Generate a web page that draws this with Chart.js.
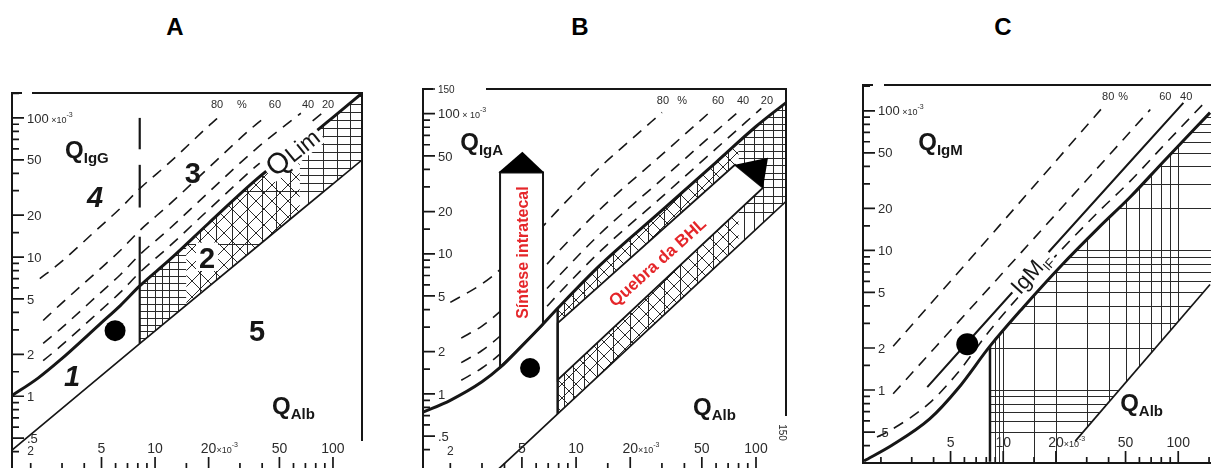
<!DOCTYPE html>
<html>
<head>
<meta charset="utf-8">
<script src="https://cdn.jsdelivr.net/npm/chart.js@4.4.1/dist/chart.umd.min.js"></script>
<style>
html,body{margin:0;padding:0;background:#fff;}
body{width:1211px;height:468px;overflow:hidden;position:relative;}
.ttl{position:absolute;top:13px;width:40px;margin-left:-20px;text-align:center;font:bold 24px "Liberation Sans",Arial,sans-serif;line-height:28px;color:#000;}
canvas{position:absolute;}
</style>
</head>
<body>
<div class="ttl" style="left:175px">A</div>
<div class="ttl" style="left:580px">B</div>
<div class="ttl" style="left:1003px">C</div>
<canvas id="cA"></canvas>
<canvas id="cB"></canvas>
<canvas id="cC"></canvas>
<script>
// ================= DATA (quotients, x10^-3) =================
// ---- Panel A : IgG ----
const A_QLIM_X = [1.55, 2.2, 2.9, 4.9, 6.4, 8.2, 12, 20, 37, 60, 100, 146];
const A_QLIM_Y = [1.0, 1.35, 1.8, 3.3, 4.5, 6.2, 9.5, 17.5, 36, 59, 101, 151];
const A_QLOW_X = [1.57, 8.2, 146];
const A_QLOW_Y = [0.41, 2.39, 50];
const A_D80_X = [2.25, 2.9, 4.9, 6.4, 8.2, 12, 20, 23.5];
const A_D80_Y = [7.0, 9.0, 16.5, 22.5, 31, 47.5, 87.5, 105];
const A_D60_X = [2.35, 2.9, 4.9, 6.4, 8.2, 12, 20, 37, 42];
const A_D60_Y = [3.5, 4.5, 8.2, 11.2, 15.5, 23.8, 43.8, 90, 102];
const A_D40_X = [2.35, 2.9, 4.9, 6.4, 8.2, 12, 20, 37, 60, 66];
const A_D40_Y = [2.4, 3.0, 5.5, 7.5, 10.4, 15.9, 29.2, 60, 98.5, 108];
const A_D20_X = [2.35, 2.9, 4.9, 6.4, 8.2, 12, 20, 37, 60, 90];
const A_D20_Y = [1.8, 2.25, 4.1, 5.6, 7.75, 11.9, 21.9, 45, 74, 112];
const A_CUT_X = [8.2, 8.2];
const A_CUT1_Y = [100, 59.5];
const A_CUT2_Y = [46, 22.7];
const A_CUT3_Y = [14, 2.39];
const A_PATIENT = [5.96, 2.96];

// ---- Panel B : IgA ----
const B_QLIM_X = [1.41, 2, 3, 3.8, 5, 6.4, 8, 13.6, 30, 60, 100, 147];
const B_QLIM_Y = [0.74, 0.9, 1.22, 1.55, 2.2, 3.05, 4.15, 8.3, 20.4, 45, 81, 120];
const B_QLOW_X = [3.7, 7.9, 147];
const B_QLOW_Y = [0.29, 0.72, 23.7];
const B_D80_X = [2.0, 3, 3.8, 5, 6.4, 8, 13.6, 20, 30];
const B_D80_Y = [4.5, 6.1, 7.75, 11.0, 15.25, 20.75, 41.5, 64.5, 102];
const B_D60_X = [2.3, 3, 3.8, 5, 6.4, 8, 13.6, 30, 57];
const B_D60_Y = [2.5, 3.05, 3.9, 5.5, 7.6, 10.4, 20.8, 51, 106];
const B_D40_X = [2.3, 3, 3.8, 5, 6.4, 8, 13.6, 30, 60, 80];
const B_D40_Y = [1.67, 2.04, 2.6, 3.67, 5.1, 6.93, 13.9, 34, 75, 103.5];
const B_D20_X = [2.3, 3, 3.8, 5, 6.4, 8, 13.6, 30, 60, 107];
const B_D20_Y = [1.25, 1.53, 1.94, 2.75, 3.8, 5.19, 10.4, 25.5, 56.3, 109];
const B_CUT_X = [7.9, 7.9];
const B_CUT_Y = [4.1, 0.72];
const B_PATIENT = [5.55, 1.53];

// ---- Panel C : IgM ----
const C_QLIM_X = [1.6, 2.3, 3.8, 5.5, 8.4, 13, 21.5, 35, 53, 82, 152];
const C_QLIM_Y = [0.31, 0.40, 0.62, 1.02, 2.06, 3.9, 7.8, 14.5, 24, 43, 97];
const C_QLOW_X = [25.8, 152];
const C_QLOW_Y = [0.43, 5.7];
const C_D80_X = [2.35, 9.4, 37.3];
const C_D80_Y = [2.06, 14.8, 107];
const C_D60_X = [2.35, 12.8, 69.2];
const C_D60_Y = [0.94, 9.8, 102];
const C_IF_X = [3.68, 14.3, 107];
const C_IF_Y = [1.05, 6.97, 114];
const C_D20_X = [1.9, 2.3, 3.8, 5.5, 8.4, 13, 21.5, 35, 53, 82, 140];
const C_D20_Y = [0.46, 0.52, 0.81, 1.33, 2.68, 5.07, 10.1, 18.9, 31.2, 55.9, 113];
const C_CUT_X = [8.4, 8.4];
const C_CUT_Y = [2.06, 0.306];
const C_PATIENT = [6.23, 2.13];

// ---- Axis ticks / labels ----
const Y_TICK_VALUES = [0.4, 0.5, 0.6, 0.7, 0.8, 0.9, 1, 1.5, 2, 3, 4, 5, 6, 7, 8, 9, 10, 15, 20, 30, 40, 50, 60, 70, 80, 90, 100, 150];
const Y_LABEL_VALUES = [0.5, 1, 2, 5, 10, 20, 50, 100];
const Y_LABEL_TEXT = ['.5', '1', '2', '5', '10', '20', '50', '100'];
const X_TICK_VALUES = [2, 3, 4, 5, 6, 7, 8, 9, 10, 15, 20, 30, 40, 50, 60, 70, 80, 90, 100, 150];
const X_MAJOR_VALUES = [5, 10, 20, 50, 100];
const X_LABEL_VALUES = [2, 5, 10, 20, 50, 100];
const X_LABEL_TEXT = ['2', '5', '10', '20', '50', '100'];
const PCT_TEXT = ['80', '%', '60', '40', '20'];
const A_PCT_X = [22.3, 30.8, 47.2, 72.4, 93.8];
const B_PCT_X = [30.4, 38.8, 61.5, 84.7, 115];
const C_PCT_X = [39.8, 48.5, 84.3, 111];

// ================= DRAWING =================
const INK = '#161616';
const FONT = '"Liberation Sans", Arial, sans-serif';
const PAD = 6;

function pts(xs, ys) { return xs.map((v, i) => ({x: v, y: ys[i]})); }
function curve(xs, ys, w, dash) {
  return {data: pts(xs, ys), borderColor: INK, borderWidth: w, borderDash: dash || [],
    pointRadius: 0, pointHoverRadius: 0, fill: false, cubicInterpolationMode: 'monotone'};
}
function dot(p, r) {
  return {data: [{x: p[0], y: p[1]}], showLine: false, pointRadius: r, pointHoverRadius: r,
    pointBackgroundColor: '#000', pointBorderColor: '#000', pointBorderWidth: 0};
}
function P(chart, vx, vy) { return [chart.scales.x.getPixelForValue(vx), chart.scales.y.getPixelForValue(vy)]; }
function trace(ctx, chart, xs, ys) {
  xs.forEach((v, i) => { const p = P(chart, v, ys[i]); if (i) ctx.lineTo(p[0], p[1]); else ctx.moveTo(p[0], p[1]); });
}
function fontOf(p) { return (p.italic ? 'italic ' : '') + (p.bold ? 'bold ' : '') + p.size + 'px ' + FONT; }
function rich(ctx, parts, X, Y, opt) {
  opt = opt || {};
  ctx.save();
  ctx.translate(X, Y);
  if (opt.angle) ctx.rotate(opt.angle);
  const ws = parts.map(p => { ctx.font = fontOf(p); return ctx.measureText(p.t).width; });
  const total = ws.reduce((s, w) => s + w, 0);
  let cx = opt.align === 'left' ? 0 : (opt.align === 'first' ? -ws[0] / 2 : -total / 2);
  const main = parts[0].size;
  const base = main * 0.36;
  if (opt.bg) { ctx.fillStyle = '#fff'; ctx.fillRect(cx - 3, -main * 0.5, total + 6, main * 0.98); }
  ctx.textBaseline = 'alphabetic'; ctx.textAlign = 'left';
  parts.forEach((p, i) => { ctx.font = fontOf(p); ctx.fillStyle = p.color || opt.color || INK; ctx.fillText(p.t, cx, base + (p.dy || 0)); cx += ws[i]; });
  ctx.restore();
}

function drawHatch(chart, h) {
  const {ctx, chartArea: a} = chart;
  const sx = chart.scales.x, sy = chart.scales.y;
  const BIG = 3000;
  ctx.save();
  ctx.beginPath(); ctx.rect(a.left, a.top, a.right - a.left, a.bottom - a.top); ctx.clip();
  const up = h.ux.map((v, i) => P(chart, v, h.uy[i]));
  const u0 = up[0], ul = up[up.length - 1];
  ctx.beginPath(); ctx.moveTo(u0[0], u0[1]); up.forEach(p => ctx.lineTo(p[0], p[1]));
  ctx.lineTo(ul[0] + BIG, ul[1]); ctx.lineTo(ul[0] + BIG, a.bottom + BIG);
  ctx.lineTo(u0[0] - BIG, a.bottom + BIG); ctx.lineTo(u0[0] - BIG, u0[1]); ctx.closePath(); ctx.clip();
  const lo = h.lx.map((v, i) => P(chart, v, h.ly[i]));
  const l0 = lo[0], ll = lo[lo.length - 1];
  ctx.beginPath(); ctx.moveTo(l0[0], l0[1]); lo.forEach(p => ctx.lineTo(p[0], p[1]));
  ctx.lineTo(ll[0] + BIG, ll[1]); ctx.lineTo(ll[0] + BIG, a.top - BIG);
  ctx.lineTo(l0[0] - BIG, a.top - BIG); ctx.lineTo(l0[0] - BIG, a.bottom + BIG);
  ctx.lineTo(l0[0], a.bottom + BIG); ctx.closePath(); ctx.clip();
  const xs0 = sx.getPixelForValue(h.xFrom);
  ctx.beginPath(); ctx.rect(xs0, a.top - 10, a.right + 10 - xs0, a.bottom - a.top + 20); ctx.clip();
  ctx.strokeStyle = '#2a2a2a'; ctx.lineWidth = 1;
  h.zones.forEach(z => {
    ctx.save();
    const x0 = sx.getPixelForValue(z.x0), x1 = sx.getPixelForValue(z.x1);
    ctx.beginPath(); ctx.rect(x0, a.top - 10, x1 - x0, a.bottom - a.top + 20); ctx.clip();
    ctx.beginPath();
    (z.h || []).forEach(v => { const Y = Math.round(sy.getPixelForValue(v)) + 0.5; ctx.moveTo(x0, Y); ctx.lineTo(x1, Y); });
    (z.v || []).forEach(v => { const X = Math.round(sx.getPixelForValue(v)) + 0.5; ctx.moveTo(X, a.top); ctx.lineTo(X, a.bottom); });
    if (z.diag) {
      const W = a.right - a.left, H = a.bottom - a.top;
      for (let k = -H; k < W + H; k += z.diag) {
        ctx.moveTo(a.left + k, a.top); ctx.lineTo(a.left + k + H, a.bottom);
        ctx.moveTo(a.left + k, a.bottom); ctx.lineTo(a.left + k + H, a.top);
      }
    }
    ctx.stroke();
    ctx.restore();
  });
  ctx.restore();
}

function drawBoxes(chart, b) {
  const ctx = chart.ctx;
  ctx.save();
  ctx.strokeStyle = INK; ctx.lineJoin = 'miter';
  ctx.fillStyle = '#fff'; ctx.lineWidth = 2;
  ctx.beginPath(); trace(ctx, chart, b.sintX, b.sintY); ctx.closePath(); ctx.fill(); ctx.stroke();
  ctx.fillStyle = '#000';
  ctx.beginPath(); trace(ctx, chart, b.sintHeadX, b.sintHeadY); ctx.closePath(); ctx.fill();
  ctx.fillStyle = '#fff'; ctx.lineWidth = 1.8;
  ctx.beginPath(); trace(ctx, chart, b.bandX, b.bandY); ctx.closePath(); ctx.fill(); ctx.stroke();
  ctx.fillStyle = '#000';
  ctx.beginPath(); trace(ctx, chart, b.headX, b.headY); ctx.closePath(); ctx.fill();
  ctx.restore();
}

function drawTexts(chart, list) {
  const ctx = chart.ctx;
  list.forEach(tx => {
    const p = P(chart, tx.at[0], tx.at[1]);
    let angle = tx.angle || 0;
    if (tx.along) {
      const p1 = P(chart, tx.along[0][0], tx.along[0][1]), p2 = P(chart, tx.along[1][0], tx.along[1][1]);
      angle = Math.atan2(p2[1] - p1[1], p2[0] - p1[0]);
    }
    rich(ctx, tx.parts, p[0], p[1], {align: tx.align, angle: angle, bg: tx.bg, color: tx.color});
  });
}

function drawAxes(chart, c) {
  const {ctx, chartArea: a} = chart;
  const sx = chart.scales.x, sy = chart.scales.y;
  ctx.save();
  ctx.strokeStyle = INK; ctx.lineWidth = 1.7;
  ctx.beginPath();
  Y_TICK_VALUES.forEach(v => {
    if (v < sy.min || v > sy.max) return;
    const Y = sy.getPixelForValue(v);
    const L = c.yLabels.includes(v) ? 12 : 7;
    ctx.moveTo(a.left, Y); ctx.lineTo(a.left + L, Y);
  });
  X_TICK_VALUES.forEach(v => {
    if (v < sx.min || v > sx.max) return;
    const X = sx.getPixelForValue(v);
    const L = X_MAJOR_VALUES.includes(v) ? 12 : 6;
    ctx.moveTo(X, a.bottom); ctx.lineTo(X, a.bottom - L);
  });
  ctx.stroke();
  const LC = '#2c2c2c';
  c.yLabels.forEach(v => {
    const i = Y_LABEL_VALUES.indexOf(v);
    const txt = i >= 0 ? Y_LABEL_TEXT[i] : String(v);
    const Y = sy.getPixelForValue(v);
    let parts = [{t: txt, size: v === 150 ? 10 : 13}];
    if (v === 100) parts = [{t: '100', size: 13}, {t: c.xSep, size: 9}, {t: '-3', size: 7, dy: -6}];
    rich(ctx, parts, a.left + 15, Y, {align: 'left', color: LC});
  });
  c.xLabels.forEach(v => {
    const i = X_LABEL_VALUES.indexOf(v);
    const X = sx.getPixelForValue(v);
    let parts = [{t: X_LABEL_TEXT[i], size: 14}];
    if (v === 2) parts = [{t: '2', size: 12}];
    if (v === 20) parts = [{t: '20', size: 14}, {t: '\u00d710', size: 9}, {t: '-3', size: 7, dy: -6}];
    rich(ctx, parts, X, a.bottom - 21 + (v === 2 ? 3 : 0), {align: 'first', color: LC});
  });
  c.pctX.forEach((v, i) => {
    const X = sx.getPixelForValue(v);
    rich(ctx, [{t: PCT_TEXT[i], size: 11}], X, a.top + 11, {color: LC});
  });
  ctx.restore();
}

function drawFrame(chart, f) {
  const {ctx, chartArea: a} = chart;
  ctx.save();
  ctx.strokeStyle = INK; ctx.lineWidth = 2; ctx.lineCap = 'square';
  ctx.beginPath();
  ctx.moveTo(a.left, a.top); ctx.lineTo(a.left, a.bottom);
  ctx.moveTo(a.left, a.top); ctx.lineTo(a.left + 9, a.top);
  ctx.moveTo(a.left + f.topGap, a.top); ctx.lineTo(a.right, a.top);
  ctx.moveTo(a.right, a.top); ctx.lineTo(a.right, a.bottom - f.rightGap);
  ctx.moveTo(a.left, a.bottom); ctx.lineTo(a.right, a.bottom);
  ctx.stroke();
  ctx.restore();
}

function makePlugin(cfg) {
  return {
    id: 'reiber_' + cfg.id,
    beforeDatasetsDraw(chart) { if (cfg.hatch) drawHatch(chart, cfg.hatch); },
    afterDatasetDraw(chart, args) { if (cfg.boxes && args.index === cfg.boxes.after) drawBoxes(chart, cfg.boxes); },
    afterDatasetsDraw(chart) { drawTexts(chart, cfg.texts); drawAxes(chart, cfg); drawFrame(chart, cfg.frame); }
  };
}

function build(cfg) {
  const cv = document.getElementById(cfg.id);
  const w = cfg.box.r - cfg.box.l + 2 * PAD, h = cfg.box.b - cfg.box.t + 2 * PAD;
  cv.width = w; cv.height = h;
  cv.style.left = (cfg.box.l - PAD) + 'px'; cv.style.top = (cfg.box.t - PAD) + 'px';
  cv.style.width = w + 'px'; cv.style.height = h + 'px';
  new Chart(cv, {
    type: 'line',
    data: {datasets: cfg.datasets},
    options: {
      responsive: false, animation: false, devicePixelRatio: 1, events: [],
      layout: {padding: PAD, autoPadding: false},
      scales: {
        x: {type: 'logarithmic', min: cfg.xr[0], max: cfg.xr[1], display: false},
        y: {type: 'logarithmic', min: cfg.yr[0], max: cfg.yr[1], display: false}
      },
      plugins: {legend: {display: false}, tooltip: {enabled: false}}
    },
    plugins: [makePlugin(cfg)]
  });
}

const DASH = [11, 8];
const RED = '#e5262a';
const qLabel = (sub, at) => ({parts: [{t: 'Q', size: 24, bold: true}, {t: sub, size: 15, bold: true, dy: 5}], at: at, align: 'left'});

// ---------- Panel A ----------
build({
  id: 'cA', box: {l: 12, t: 93, r: 362, b: 469}, xr: [1.57, 145.6], yr: [0.311, 151],
  yLabels: Y_LABEL_VALUES, xLabels: X_LABEL_VALUES, pctX: A_PCT_X, xSep: ' \u00d710',
  frame: {topGap: 21, rightGap: 29},
  datasets: [
    dot(A_PATIENT, 10.5),
    curve(A_QLIM_X, A_QLIM_Y, 3),
    curve(A_QLOW_X, A_QLOW_Y, 1.7),
    curve(A_CUT_X, A_CUT1_Y, 2.2),
    curve(A_CUT_X, A_CUT2_Y, 2.2),
    curve(A_CUT_X, A_CUT3_Y, 2.2),
    curve(A_D20_X, A_D20_Y, 1.6, DASH),
    curve(A_D40_X, A_D40_Y, 1.6, DASH),
    curve(A_D60_X, A_D60_Y, 1.6, DASH),
    curve(A_D80_X, A_D80_Y, 1.6, DASH)
  ],
  hatch: {ux: A_QLIM_X, uy: A_QLIM_Y, lx: A_QLOW_X, ly: A_QLOW_Y, xFrom: 8.2,
    zones: [
      {x0: 8.2, x1: 15, h: [2.6, 2.92, 3.27, 3.67, 4.12, 4.62, 5.19, 5.82, 6.53, 7.33, 8.2, 9.2, 10.3, 11.6], v: [9, 10, 11, 12, 13.5]},
      {x0: 15, x1: 65, h: [12.5, 30], v: [18, 22, 27, 33, 40, 48, 57], diag: 16},
      {x0: 65, x1: 150, h: [30, 34, 39, 44, 50, 57, 65, 74, 85, 97, 110, 126, 143], v: [72, 88, 105, 125]}
    ]},
  texts: [
    qLabel('IgG', [3.12, 59]),
    qLabel('Alb', [45.4, 0.86]),
    {parts: [{t: '4', size: 29, italic: true, bold: true}], at: [4.6, 27.3]},
    {parts: [{t: '3', size: 29, bold: true}], at: [16.3, 40.4]},
    {parts: [{t: '2', size: 29, bold: true}], at: [19.6, 10], bg: true},
    {parts: [{t: '5', size: 29, bold: true}], at: [37.4, 2.96]},
    {parts: [{t: '1', size: 29, italic: true, bold: true}], at: [3.42, 1.41]},
    {parts: [{t: 'Q', size: 29}, {t: 'Lim', size: 23}], at: [58.8, 58], along: [[37, 36], [100, 101]], bg: true}
  ]
});

// ---------- Panel B ----------
build({
  id: 'cB', box: {l: 423, t: 89, r: 786, b: 469}, xr: [1.41, 146.8], yr: [0.291, 150],
  yLabels: [0.5, 1, 2, 5, 10, 20, 50, 100, 150], xLabels: X_LABEL_VALUES, pctX: B_PCT_X, xSep: ' \u00d7 10',
  frame: {topGap: 64, rightGap: 54},
  datasets: [
    dot(B_PATIENT, 10),
    curve(B_QLIM_X, B_QLIM_Y, 3),
    curve(B_CUT_X, B_CUT_Y, 2.5),
    curve(B_QLOW_X, B_QLOW_Y, 1.7),
    curve(B_D20_X, B_D20_Y, 1.6, DASH),
    curve(B_D40_X, B_D40_Y, 1.6, DASH),
    curve(B_D60_X, B_D60_Y, 1.6, DASH),
    curve(B_D80_X, B_D80_Y, 1.6, DASH)
  ],
  hatch: {ux: B_QLIM_X, uy: B_QLIM_Y, lx: B_QLOW_X, ly: B_QLOW_Y, xFrom: 7.9,
    zones: [
      {x0: 7.9, x1: 80, v: [8.6, 9.6, 11, 13, 16, 20, 25, 31, 38, 47, 58, 70], diag: 14},
      {x0: 80, x1: 150, h: [20, 23, 26, 30, 34, 38, 43, 48, 54, 61, 68, 76, 85, 95, 106, 118], v: [86, 97, 110, 125, 140]}
    ]},
  boxes: {after: 4,
    sintX: [3.78, 6.55, 6.55, 5, 3.78], sintY: [38, 38, 3.14, 2.2, 1.55],
    sintHeadX: [3.7, 6.65, 5.03], sintHeadY: [38, 38, 53.5],
    bandX: [7.9, 76.4, 109.4, 7.9], bandY: [3.2, 43.2, 29.6, 1.26],
    headX: [76.4, 116.6, 109.4], headY: [43.2, 48.5, 29.6]},
  texts: [
    qLabel('IgA', [2.27, 63]),
    qLabel('Alb', [44.7, 0.81]),
    {parts: [{t: 'S\u00edntese intratecal', size: 16, bold: true}], at: [5.03, 10.2], angle: -Math.PI / 2, color: RED},
    {parts: [{t: 'Quebra da BHL', size: 17, bold: true}], at: [28.2, 8.77], along: [[7.9, 3.2], [76.4, 43.2]], color: RED},
    {parts: [{t: '150', size: 10}], at: [140, 0.53], angle: Math.PI / 2, color: '#2c2c2c'}
  ]
});

// ---------- Panel C ----------
build({
  id: 'cC', box: {l: 863, t: 85, r: 1213, b: 463}, xr: [1.58, 158], yr: [0.306, 153],
  yLabels: Y_LABEL_VALUES, xLabels: [5, 10, 20, 50, 100], pctX: C_PCT_X, xSep: ' \u00d710',
  frame: {topGap: 22, rightGap: 0},
  datasets: [
    dot(C_PATIENT, 11),
    curve(C_QLIM_X, C_QLIM_Y, 3),
    curve(C_CUT_X, C_CUT_Y, 2.5),
    curve(C_QLOW_X, C_QLOW_Y, 1.7),
    curve(C_IF_X, C_IF_Y, 2),
    curve(C_D20_X, C_D20_Y, 1.6, DASH),
    curve(C_D60_X, C_D60_Y, 1.6, DASH),
    curve(C_D80_X, C_D80_Y, 1.6, DASH)
  ],
  hatch: {ux: C_QLIM_X, uy: C_QLIM_Y, lx: C_QLOW_X, ly: C_QLOW_Y, xFrom: 8.4,
    zones: [
      {x0: 8.4, x1: 170, h: [0.5, 0.6, 0.7, 0.8, 0.9, 1, 2, 3, 4, 5, 6, 7, 8, 9, 10, 20, 30, 40, 50, 60, 70, 80, 90],
        v: [9, 9.5, 10, 15, 20, 30, 40, 50, 60, 70, 80, 90, 100]}
    ]},
  texts: [
    qLabel('IgM', [3.27, 60]),
    qLabel('Alb', [46.6, 0.82]),
    {parts: [{t: 'IgM', size: 22}, {t: 'IF', size: 13, dy: 5}], at: [14.3, 6.97], along: [[3.68, 1.05], [107, 114]], bg: true}
  ]
});
</script>
</body>
</html>
